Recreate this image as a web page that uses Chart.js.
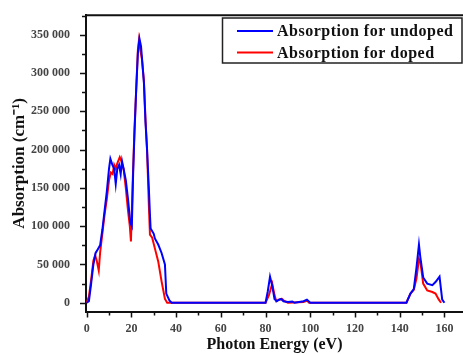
<!DOCTYPE html>
<html>
<head>
<meta charset="utf-8">
<script src="https://cdn.jsdelivr.net/npm/chart.js@4.4.1/dist/chart.umd.min.js"></script>
<style>
  body { margin: 0; background: #fff; }
  canvas { display: block; }
</style>
</head>
<body>
<canvas id="absChart" width="463" height="354"></canvas>
<script>
// photon energy (eV) / absorption (cm^-1)
const undopedE = [0, 1, 2, 3, 4, 5, 6, 7, 8, 9, 10, 10.6, 11.5, 12.3, 13, 13.7, 14.5, 15.2, 15.8, 16.5, 17.5, 18.5, 19.5, 20.2,
  20.8, 21.4, 22.1, 22.9, 23.6, 24.3, 24.8, 25.6, 26.3, 27, 27.8, 28.3, 28.6, 30, 30.5, 32, 33.5, 35, 35.6, 37, 38,
  80, 81, 82, 83, 84, 85, 86, 87, 88, 90, 92, 93, 97, 98.5, 100,
  143, 144.8, 146.3, 147.5, 148.6, 149.2, 150.5, 152.3, 154.6, 156, 157.8, 159, 160];
const undopedA = [0, 2000, 25000, 50000, 65000, 70000, 75000, 95000, 120000, 145000, 175000, 188000, 180000, 175000, 155000, 175000, 180000, 168000, 185000, 175000, 160000, 135000, 105000, 100000,
  171000, 223000, 275000, 326000, 345000, 335000, 317000, 287000, 236000, 200000, 150000, 115000, 97000, 90000, 84000, 76000, 65000, 50000, 12000, 3000, 0,
  0, 15000, 34000, 22000, 5000, 2000, 4000, 5000, 2000, 1000, 1500, 0, 2000, 4000, 0,
  0, 12000, 18000, 46000, 76000, 60000, 33000, 25000, 23000, 27000, 34000, 4000, 0];

const dopedE = [0, 1, 2, 3, 3.8, 4.5, 5.4, 6, 7, 8, 9, 10, 10.8, 11.6, 12.3, 13, 13.7, 14.8, 15.5, 16.5, 17.5, 18.5, 19.3, 19.8,
  20.5, 21.3, 22.1, 22.9, 23.4, 24, 24.7, 25.6, 26.3, 27, 27.8, 28.3, 29.3, 30.5, 32, 33.5, 35, 36,
  80, 81.5, 83, 84, 84.8, 86, 87.3, 88.5, 90, 97, 98.5, 99.5,
  143, 144.8, 146.3, 147.5, 148.6, 149.3, 150.5, 152.3, 154.6, 156, 157.5, 158.5];
const dopedA = [0, 8000, 30000, 55000, 62000, 55000, 42000, 65000, 90000, 115000, 135000, 160000, 170000, 168000, 180000, 175000, 182000, 190000, 185000, 175000, 150000, 120000, 100000, 80000,
  150000, 220000, 275000, 330000, 343000, 330000, 318000, 290000, 240000, 200000, 128000, 89000, 85000, 71000, 54000, 28000, 5000, 0,
  0, 10000, 25000, 10000, 2000, 4000, 5000, 2000, 0, 1000, 3000, 0,
  0, 12000, 17000, 32000, 57000, 52000, 25000, 16000, 14000, 12000, 4000, 0];

const xTicks = [0, 20, 40, 60, 80, 100, 120, 140, 160];
const yTicks = [0, 50000, 100000, 150000, 200000, 250000, 300000, 350000];
const seriesLabels = ["Absorption for undoped", "Absorption for doped"];

function pts(xs, ys) {
  return xs.map((x, i) => ({ x: x, y: ys[i] }));
}
function spaced(v) {
  return String(v).replace(/\B(?=(\d{3})+(?!\d))/g, " ");
}

// tick marks, top frame line and the boxed legend
const framePlugin = {
  id: "frame",
  afterDraw(chart) {
    const ctx = chart.ctx;
    const area = chart.chartArea;
    const xs = chart.scales.x, ys = chart.scales.y;
    ctx.save();
    ctx.strokeStyle = "#111";
    ctx.lineWidth = 2;
    ctx.beginPath();
    ctx.moveTo(area.left - 1, area.top);
    ctx.lineTo(area.right, area.top);
    ctx.stroke();

    ctx.lineWidth = 1.5;
    ctx.beginPath();
    for (let v = 0; v <= 160; v += 10) {
      const px = Math.round(xs.getPixelForValue(v)) + 0.5;
      const len = v % 20 === 0 ? 6 : 4;
      ctx.moveTo(px, area.bottom);
      ctx.lineTo(px, area.bottom + len);
    }
    for (let v = 0; v <= 375000; v += 25000) {
      const py = Math.round(ys.getPixelForValue(v)) + 0.5;
      const len = v % 50000 === 0 ? 6 : 4;
      ctx.moveTo(area.left, py);
      ctx.lineTo(area.left - len, py);
    }
    ctx.stroke();

    // legend
    const bx = 222.5, by = 18, bw = 239.5, bh = 45;
    ctx.fillStyle = "#fff";
    ctx.fillRect(bx, by, bw, bh);
    ctx.strokeStyle = "#222";
    ctx.lineWidth = 1.5;
    ctx.strokeRect(bx, by, bw, bh);
    ctx.font = 'bold 16px "Liberation Serif"';
    ctx.letterSpacing = "0.5px";
    ctx.textBaseline = "middle";
    chart.data.datasets.forEach((ds, i) => {
      const ly = 31 + i * 21.5;
      ctx.strokeStyle = ds.borderColor;
      ctx.lineWidth = 2;
      ctx.beginPath();
      ctx.moveTo(237, ly);
      ctx.lineTo(273, ly);
      ctx.stroke();
      ctx.fillStyle = "#111";
      ctx.fillText(ds.label, 277, ly + 1);
    });
    ctx.restore();
  }
};

new Chart(document.getElementById("absChart"), {
  type: "line",
  data: {
    datasets: [
      { label: seriesLabels[0], data: pts(undopedE, undopedA), borderColor: "#0000ff", borderWidth: 2, pointRadius: 0, tension: 0 },
      { label: seriesLabels[1], data: pts(dopedE, dopedA), borderColor: "#ff0000", borderWidth: 2, pointRadius: 0, tension: 0 }
    ]
  },
  options: {
    responsive: false,
    animation: false,
    devicePixelRatio: 1,
    layout: { padding: { top: 12, right: 0, left: 0, bottom: 0 } },
    plugins: { legend: { display: false }, tooltip: { enabled: false } },
    scales: {
      x: {
        type: "linear",
        min: -0.3,
        max: 168.3,
        grid: { display: false },
        border: { display: true, color: "#111", width: 2 },
        afterBuildTicks: s => { s.ticks = xTicks.map(v => ({ value: v })); },
        afterFit: s => { s.height = 42.5; },
        ticks: {
          maxRotation: 0,
          padding: 2,
          color: "#444",
          font: { family: "Liberation Serif", size: 12, weight: "bold" },
          callback: v => String(v)
        },
        title: {
          display: true,
          text: "Photon Energy (eV)",
          color: "#111",
          padding: { top: 0, bottom: 0 },
          font: { family: "Liberation Serif", size: 16, weight: "bold" }
        }
      },
      y: {
        type: "linear",
        min: -11400,
        max: 375400,
        grid: { display: false },
        border: { display: true, color: "#111", width: 2 },
        afterBuildTicks: s => { s.ticks = yTicks.map(v => ({ value: v })); },
        afterFit: s => { s.width = 86; },
        ticks: {
          padding: 8,
          color: "#444",
          font: { family: "Liberation Serif", size: 12, weight: "bold" },
          callback: v => spaced(v)
        },
        title: {
          display: true,
          text: "Absorption (cm⁻¹)",
          color: "#111",
          padding: { top: 9, bottom: 0 },
          font: { family: "Liberation Serif", size: 17, weight: "bold" }
        }
      }
    }
  },
  plugins: [framePlugin]
});
</script>
</body>
</html>
